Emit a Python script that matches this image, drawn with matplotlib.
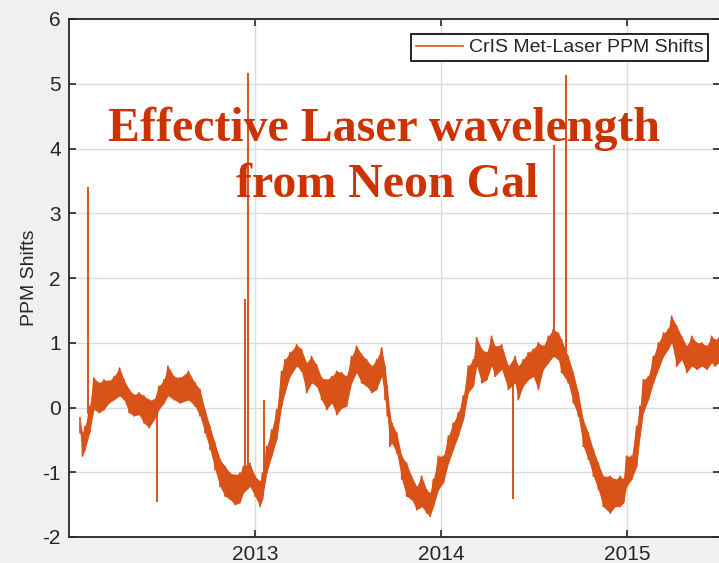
import numpy as np
import matplotlib
matplotlib.use('Agg')
import matplotlib.pyplot as plt

# decimal year of each sampled column, with the upper / lower edge of the noisy band
years = [2012.059, 2012.072, 2012.086, 2012.111, 2012.134, 2012.161, 2012.188, 2012.215,
         2012.242, 2012.272, 2012.296, 2012.323, 2012.349, 2012.376, 2012.403, 2012.430,
         2012.457, 2012.484, 2012.511, 2012.532, 2012.565, 2012.597, 2012.642, 2012.678,
         2012.704, 2012.731, 2012.758, 2012.785, 2012.812, 2012.839, 2012.866, 2012.893,
         2012.919, 2012.937, 2012.973, 2013.000, 2013.027, 2013.040, 2013.063, 2013.090,
         2013.117, 2013.143, 2013.161, 2013.188, 2013.224, 2013.250, 2013.277, 2013.304,
         2013.331, 2013.358, 2013.385, 2013.412, 2013.439, 2013.466, 2013.492, 2013.519,
         2013.546, 2013.573, 2013.600, 2013.627, 2013.654, 2013.681, 2013.699, 2013.711,
         2013.725, 2013.735, 2013.762, 2013.789, 2013.815, 2013.842, 2013.869, 2013.896,
         2013.923, 2013.941, 2013.959, 2013.986, 2014.013, 2014.040, 2014.066, 2014.093,
         2014.120, 2014.147, 2014.174, 2014.192, 2014.219, 2014.246, 2014.272, 2014.290,
         2014.326, 2014.362, 2014.398, 2014.415, 2014.442, 2014.469, 2014.496, 2014.523,
         2014.550, 2014.577, 2014.604, 2014.631, 2014.648, 2014.684, 2014.711, 2014.738,
         2014.765, 2014.792, 2014.819, 2014.846, 2014.872, 2014.909, 2014.936, 2014.963,
         2014.981, 2014.998, 2015.025, 2015.052, 2015.070, 2015.088, 2015.115, 2015.142,
         2015.169, 2015.196, 2015.222, 2015.240, 2015.267, 2015.294, 2015.321, 2015.348,
         2015.375, 2015.402, 2015.429, 2015.455, 2015.473, 2015.495]
band_hi = [-0.16, -0.39, -0.29, 0.02, 0.46, 0.38, 0.43, 0.41,
           0.48, 0.61, 0.43, 0.28, 0.20, 0.23, 0.18, 0.12,
           0.12, 0.33, 0.43, 0.64, 0.48, 0.46, 0.56, 0.38,
           0.28, -0.03, -0.29, -0.55, -0.80, -0.91, -1.01, -1.04,
           -1.01, -0.91, -0.86, -1.06, -1.14, -1.01, -0.60, -0.34,
           -0.03, 0.56, 0.74, 0.85, 0.97, 0.90, 0.69, 0.79,
           0.66, 0.46, 0.43, 0.48, 0.56, 0.54, 0.48, 0.79,
           0.95, 0.82, 0.74, 0.64, 0.74, 0.92, 0.64, 0.33,
           -0.08, -0.24, -0.39, -0.75, -0.86, -1.06, -1.22, -1.06,
           -1.27, -1.32, -1.11, -0.75, -0.75, -0.44, -0.24, -0.08,
           0.18, 0.64, 0.74, 1.08, 0.90, 0.85, 1.10, 0.95,
           0.97, 0.64, 0.79, 0.64, 0.74, 0.85, 0.90, 1.00,
           0.95, 1.10, 1.21, 1.15, 1.05, 0.79, 0.54, 0.23,
           -0.19, -0.39, -0.65, -0.86, -1.06, -1.06, -1.11, -1.06,
           -1.11, -0.75, -0.75, -0.29, 0.02, 0.43, 0.48, 0.79,
           1.00, 1.15, 1.21, 1.41, 1.26, 1.10, 0.95, 1.10,
           1.00, 1.00, 0.95, 1.10, 1.05, 1.08]
band_lo = [-0.39, -0.75, -0.65, -0.39, -0.03, -0.08, -0.03, 0.07,
           0.12, 0.18, 0.12, -0.08, -0.13, -0.11, -0.24, -0.31,
           -0.19, -0.03, 0.07, 0.18, 0.12, 0.07, 0.12, 0.02,
           -0.13, -0.39, -0.65, -0.96, -1.22, -1.37, -1.42, -1.50,
           -1.47, -1.32, -1.22, -1.37, -1.53, -1.42, -1.01, -0.75,
           -0.49, 0.02, 0.23, 0.48, 0.64, 0.56, 0.23, 0.38,
           0.33, 0.12, -0.03, 0.07, -0.11, -0.01, 0.02, 0.38,
           0.54, 0.38, 0.33, 0.23, 0.28, 0.48, 0.12, -0.13,
           -0.60, -0.55, -0.70, -1.11, -1.37, -1.42, -1.58, -1.53,
           -1.63, -1.68, -1.53, -1.27, -1.16, -0.86, -0.65, -0.44,
           -0.19, 0.23, 0.33, 0.64, 0.38, 0.43, 0.64, 0.48,
           0.59, 0.28, 0.38, 0.12, 0.33, 0.43, 0.48, 0.28,
           0.59, 0.69, 0.79, 0.74, 0.54, 0.38, 0.07, -0.13,
           -0.60, -0.80, -1.06, -1.27, -1.53, -1.63, -1.53, -1.53,
           -1.47, -1.22, -1.11, -0.91, -0.44, -0.08, 0.12, 0.38,
           0.59, 0.79, 0.90, 1.00, 0.64, 0.74, 0.54, 0.64,
           0.59, 0.64, 0.59, 0.69, 0.64, 0.70]

# isolated spikes (bad calibration points): where they leave the band and how far they go
spike_years = [2012.102, 2012.471, 2012.946, 2012.960, 2013.050, 2014.389, 2014.609, 2014.670]
spike_base = [-0.10, 0.05, -0.95, -0.95, -1.20, 0.45, 1.00, 0.80]
spike_vals = [3.41, -1.46, 1.67, 5.17, 0.12, -1.42, 4.06, 5.14]

xtick_years = [2013, 2014, 2015]
ytick_vals = [-2, -1, 0, 1, 2, 3, 4, 5, 6]

line_color = '#d95319'
text_color = '#cc3300'
dark = '#262626'

plt.rcParams['font.family'] = ['Liberation Sans', 'DejaVu Sans']

# zigzag between upper and lower edge of the band
xs = np.repeat(years, 2)
ys = [v for pair in zip(band_hi, band_lo) for v in pair]

fig = plt.figure(figsize=(7.19, 5.63), dpi=100, facecolor='#f0f0f0')
ax = fig.add_axes([69 / 719, 26 / 563, 651 / 719, 518 / 563])
ax.set_facecolor('white')

ax.fill_between(years, band_lo, band_hi, color=line_color, lw=0, zorder=2)
ax.plot(xs, ys, color=line_color, lw=1.2, zorder=3, label='CrIS Met-Laser PPM Shifts')
ax.vlines(spike_years, spike_base, spike_vals, color=line_color, lw=1.4, zorder=3)

ax.set_xlim(2012.0, 2015.5)
ax.set_ylim(-2, 6)
ax.set_xticks(xtick_years)
ax.set_xticklabels([str(y) for y in xtick_years])
ax.set_yticks(ytick_vals)
ax.set_yticklabels([str(v) for v in ytick_vals])
ax.grid(True, color='#dcdcdc', lw=1.0, zorder=0)
ax.set_axisbelow(True)

ax.tick_params(direction='in', length=5, width=1.2, colors=dark, labelsize=15,
               top=True, right=True, pad=6)
for s in ax.spines.values():
    s.set_color(dark)
    s.set_linewidth(1.3)

ax.set_ylabel('PPM Shifts', fontsize=14, color=dark, labelpad=3)

leg = ax.legend(loc='upper right', bbox_to_anchor=(708 / 719, 1 - 34 / 563),
                bbox_transform=fig.transFigure, borderaxespad=0, fontsize=14,
                fancybox=False, framealpha=1, edgecolor='black', handlelength=2.4,
                handletextpad=0.3, borderpad=0.25)
leg.get_frame().set_linewidth(1.2)
for t in leg.get_texts():
    t.set_color(dark)

# overlay annotation
fig.text(384 / 719, 1 - 141 / 563, 'Effective Laser wavelength', ha='center', va='baseline',
         fontsize=34.5, fontweight='bold', color=text_color, family=['Liberation Serif'])
fig.text(387 / 719, 1 - 197 / 563, 'from Neon Cal', ha='center', va='baseline',
         fontsize=34.5, fontweight='bold', color=text_color, family=['Liberation Serif'])

fig.savefig('out.png', dpi=100, facecolor=fig.get_facecolor())
